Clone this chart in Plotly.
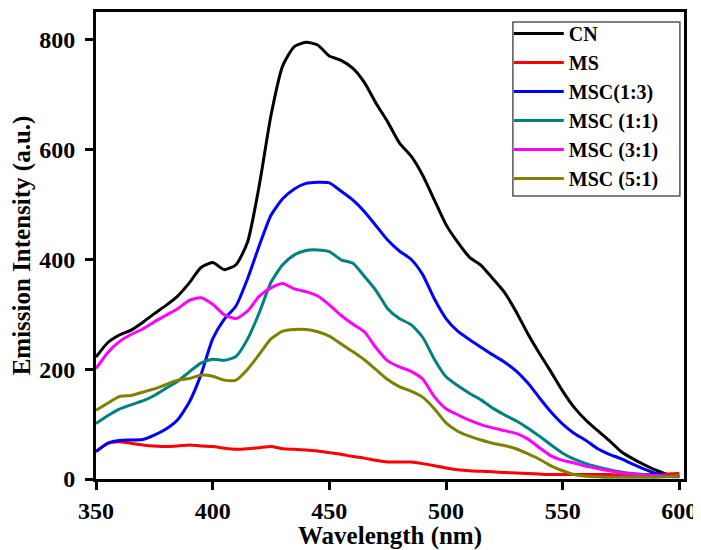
import plotly.graph_objects as go

wavelength = list(range(350, 601, 5))

cn = [222, 248, 262, 271, 285, 301, 316, 333, 357, 385, 394, 381, 390, 432, 535, 662, 752, 787, 795, 790,
      770, 762, 748, 722, 684, 650, 612, 588, 553, 508, 463, 431, 404, 389, 365, 340, 305, 265, 229, 195,
      160, 130, 107, 88, 70, 50, 37, 26, 16, 8, 5]
ms = [50, 65, 68, 65, 62, 60, 59, 60, 62, 60, 59, 56, 54, 55, 57, 59, 55, 54, 53, 51,
      48, 45, 41, 38, 34, 31, 31, 31, 28, 24, 20, 17, 15, 14, 13, 12, 11, 10, 9, 8,
      8, 8, 8, 8, 8, 7, 7, 8, 8, 9, 10]
msc13 = [50, 65, 70, 71, 72, 80, 91, 108, 140, 190, 255, 291, 315, 365, 425, 480, 510, 528, 538, 540,
         539, 524, 508, 487, 461, 435, 415, 400, 372, 328, 292, 269, 254, 240, 226, 213, 197, 175, 148, 122,
         100, 83, 70, 55, 45, 37, 27, 18, 10, 5, 4]
msc11 = [101, 115, 127, 135, 142, 152, 165, 178, 195, 211, 218, 216, 223, 255, 303, 358, 390, 408, 416, 417,
         414, 399, 393, 369, 343, 310, 292, 281, 258, 218, 186, 170, 156, 144, 129, 117, 106, 93, 78, 62,
         47, 36, 28, 22, 17, 13, 10, 8, 6, 5, 5]
msc31 = [201, 230, 250, 263, 273, 286, 298, 310, 325, 330, 318, 299, 292, 306, 333, 348, 356, 346, 341, 333,
         317, 298, 282, 268, 239, 215, 204, 196, 182, 150, 128, 117, 107, 99, 93, 88, 83, 73, 57, 42,
         34, 29, 23, 19, 15, 11, 9, 7, 6, 5, 5]
msc51 = [125, 138, 150, 152, 158, 164, 172, 180, 183, 189, 187, 180, 180, 200, 227, 255, 269, 272, 272, 268,
         260, 246, 232, 217, 199, 181, 168, 160, 149, 128, 102, 87, 78, 71, 65, 61, 55, 46, 36, 24,
         15, 8, 5, 4, 3, 3, 3, 3, 3, 4, 6]

series_names = ["CN", "MS", "MSC(1:3)", "MSC (1:1)", "MSC (3:1)", "MSC (5:1)"]
series_values = [cn, ms, msc13, msc11, msc31, msc51]
series_colors = ["#000000", "#ff0000", "#0000ff", "#008080", "#ff00ff", "#808000"]

x_ticks = [350, 400, 450, 500, 550, 600]
y_ticks = [0, 200, 400, 600, 800]

FONT = "Liberation Serif, Times New Roman, serif"

fig = go.Figure()
for name, vals, col in zip(series_names, series_values, series_colors):
    fig.add_trace(go.Scatter(x=wavelength, y=vals, mode="lines", name=name,
                             line=dict(color=col, width=3, shape="spline", smoothing=0.6)))

axis_common = dict(showline=True, linecolor="black", linewidth=3, mirror=True,
                   ticks="outside", ticklen=8, tickwidth=2.5, tickcolor="black",
                   showgrid=False, zeroline=False, automargin=False,
                   tickfont=dict(family=FONT, size=24, color="black", weight="bold"))

fig.update_xaxes(range=[350, 602], tickvals=x_ticks,
                 title=dict(text="Wavelength (nm)", standoff=6,
                            font=dict(family=FONT, size=25, color="black", weight="bold")),
                 **axis_common)
fig.update_yaxes(range=[0, 850], tickvals=y_ticks, ticklabelstandoff=5,
                 title=dict(text="Emission Intensity (a.u.)", standoff=4,
                            font=dict(family=FONT, size=25, color="black", weight="bold")),
                 **axis_common)

# legend frame (drawn as a paper-anchored box behind the legend entries)
fig.add_shape(type="rect", xref="paper", yref="paper",
              x0=0.709, x1=0.993, y0=0.606, y1=0.9786,
              line=dict(color="#555555", width=1.5), fillcolor="white", layer="above")

fig.update_layout(
    width=693, height=542,
    margin=dict(l=88, r=17, t=4, b=71),
    paper_bgcolor="white", plot_bgcolor="white",
    legend=dict(x=0.702, y=0.9957, xanchor="left", yanchor="top",
                bgcolor="rgba(0,0,0,0)", borderwidth=0,
                font=dict(family=FONT, size=20, color="black", weight="bold"),
                tracegroupgap=0, itemwidth=50),
    showlegend=True,
)

fig.write_html("out.html")
